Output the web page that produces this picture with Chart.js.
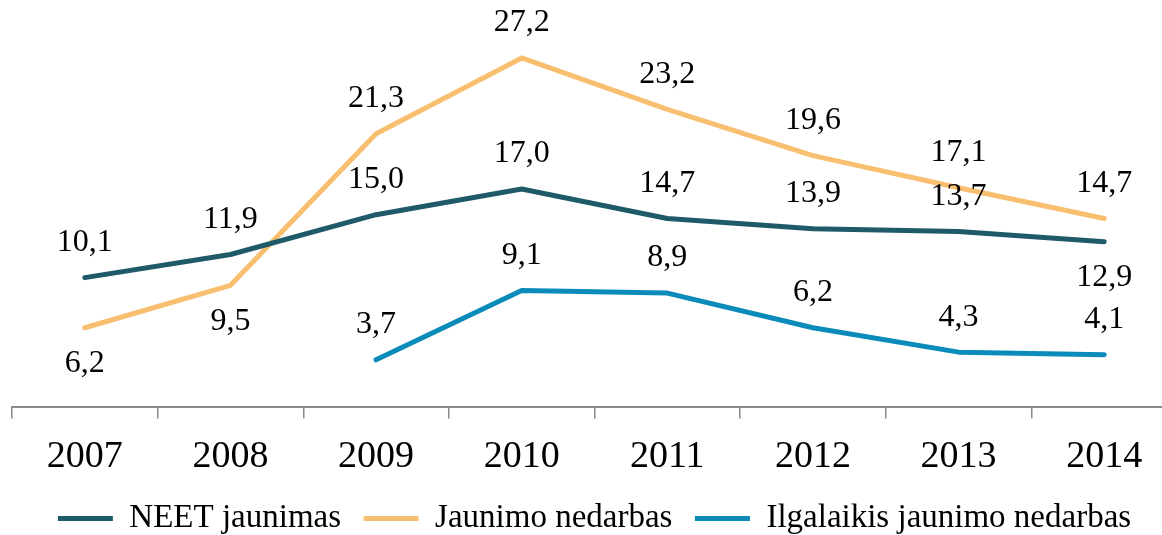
<!DOCTYPE html>
<html lang="lt">
<head>
<meta charset="utf-8">
<title>NEET jaunimas</title>
<script src="https://cdn.jsdelivr.net/npm/chart.js@4"></script>
<style>
  html, body { margin: 0; padding: 0; background: #fff; overflow: hidden; }
  #wrap { position: relative; width: 1190px; height: 545px; }
</style>
</head>
<body>
<div id="wrap"><canvas id="neetChart"></canvas></div>
<script>
// Duomenys
var years = ["2007", "2008", "2009", "2010", "2011", "2012", "2013", "2014"];
var neetValues = [10.1, 11.9, 15.0, 17.0, 14.7, 13.9, 13.7, 12.9];
var youthUnemployment = [6.2, 9.5, 21.3, 27.2, 23.2, 19.6, 17.1, 14.7];
var longTermUnemployment = [null, null, 3.7, 9.1, 8.9, 6.2, 4.3, 4.1];

// kur deti reiksmiu etiketes
var neetLabelPos = ["above", "above", "above", "above", "above", "above", "above", "below"];
var youthLabelPos = ["below", "below", "above", "above", "above", "above", "above", "above"];
var longLabelPos = ["above", "above", "above", "above", "above", "above", "above", "above"];

var serif = "'Liberation Serif', 'DejaVu Serif', serif";

document.addEventListener("DOMContentLoaded", function() {
  var canvas = document.getElementById("neetChart");
  if (!canvas) {
    console.error("canvas #neetChart not found");
    return;
  }
  var ctx = canvas.getContext("2d");

  // paprastas etikeciu piesimas (be datalabels plugino)
  var valueLabels = {
    id: "valueLabels",
    afterDatasetsDraw: function(chart) {
      var c = chart.ctx;
      c.save();
      c.font = "32px " + serif;
      c.fillStyle = "#000";
      c.textAlign = "center";
      c.textBaseline = "middle";
      chart.data.datasets.forEach(function(ds, i) {
        var meta = chart.getDatasetMeta(i);
        meta.data.forEach(function(pt, j) {
          var v = ds.data[j];
          if (v === null || v === undefined) return;
          var dy = ds.labelPos[j] === "below" ? 36 : -35;
          c.fillText(v.toFixed(1).replace(".", ","), pt.x, pt.y + dy);
        });
      });
      c.restore();
    }
  };

  function lineSet(label, data, color, pos) {
    return {
      label: label,
      data: data,
      labelPos: pos,
      borderColor: color,
      backgroundColor: color,
      borderWidth: 5,
      borderCapStyle: "round",
      borderJoinStyle: "round",
      pointRadius: 0,
      pointHoverRadius: 0,
      tension: 0,
      spanGaps: false
    };
  }

  var defaultLabels = Chart.defaults.plugins.legend.labels.generateLabels;

  new Chart(ctx, {
    type: "line",
    data: {
      labels: years,
      datasets: [
        lineSet("NEET jaunimas", neetValues, "#1f5a69", neetLabelPos),
        lineSet("Jaunimo nedarbas", youthUnemployment, "#f9bf70", youthLabelPos),
        lineSet("Ilgalaikis jaunimo nedarbas", longTermUnemployment, "#0b8bb9", longLabelPos)
      ]
    },
    options: {
      responsive: true,
      maintainAspectRatio: false,
      animation: false,
      layout: {
        padding: { top: 22, left: 12, right: 13, bottom: 0 }
      },
      scales: {
        x: {
          offset: true,
          grid: {
            offset: true,
            drawOnChartArea: false,
            drawTicks: true,
            tickLength: 11,
            color: "#8a8a8a",
            lineWidth: 1.5
          },
          border: { display: true, color: "#8a8a8a", width: 2 },
          ticks: {
            color: "#000",
            padding: 16,
            font: { family: serif, size: 38 }
          }
        },
        y: {
          display: false,
          min: 0,
          max: 30
        }
      },
      plugins: {
        legend: {
          display: true,
          position: "bottom",
          labels: {
            usePointStyle: true,
            pointStyle: "line",
            pointStyleWidth: 55,
            boxHeight: 5,
            padding: 6,
            color: "#000",
            font: { family: serif, size: 33 },
            // truputis vietos tarp legendos elementu
            generateLabels: function(chart) {
              var items = defaultLabels(chart);
              items.forEach(function(it, k) {
                if (k < items.length - 1) it.text = it.text + "  ";
              });
              return items;
            }
          }
        },
        tooltip: { enabled: false }
      }
    },
    plugins: [valueLabels]
  });
});
</script>
</body>
</html>
